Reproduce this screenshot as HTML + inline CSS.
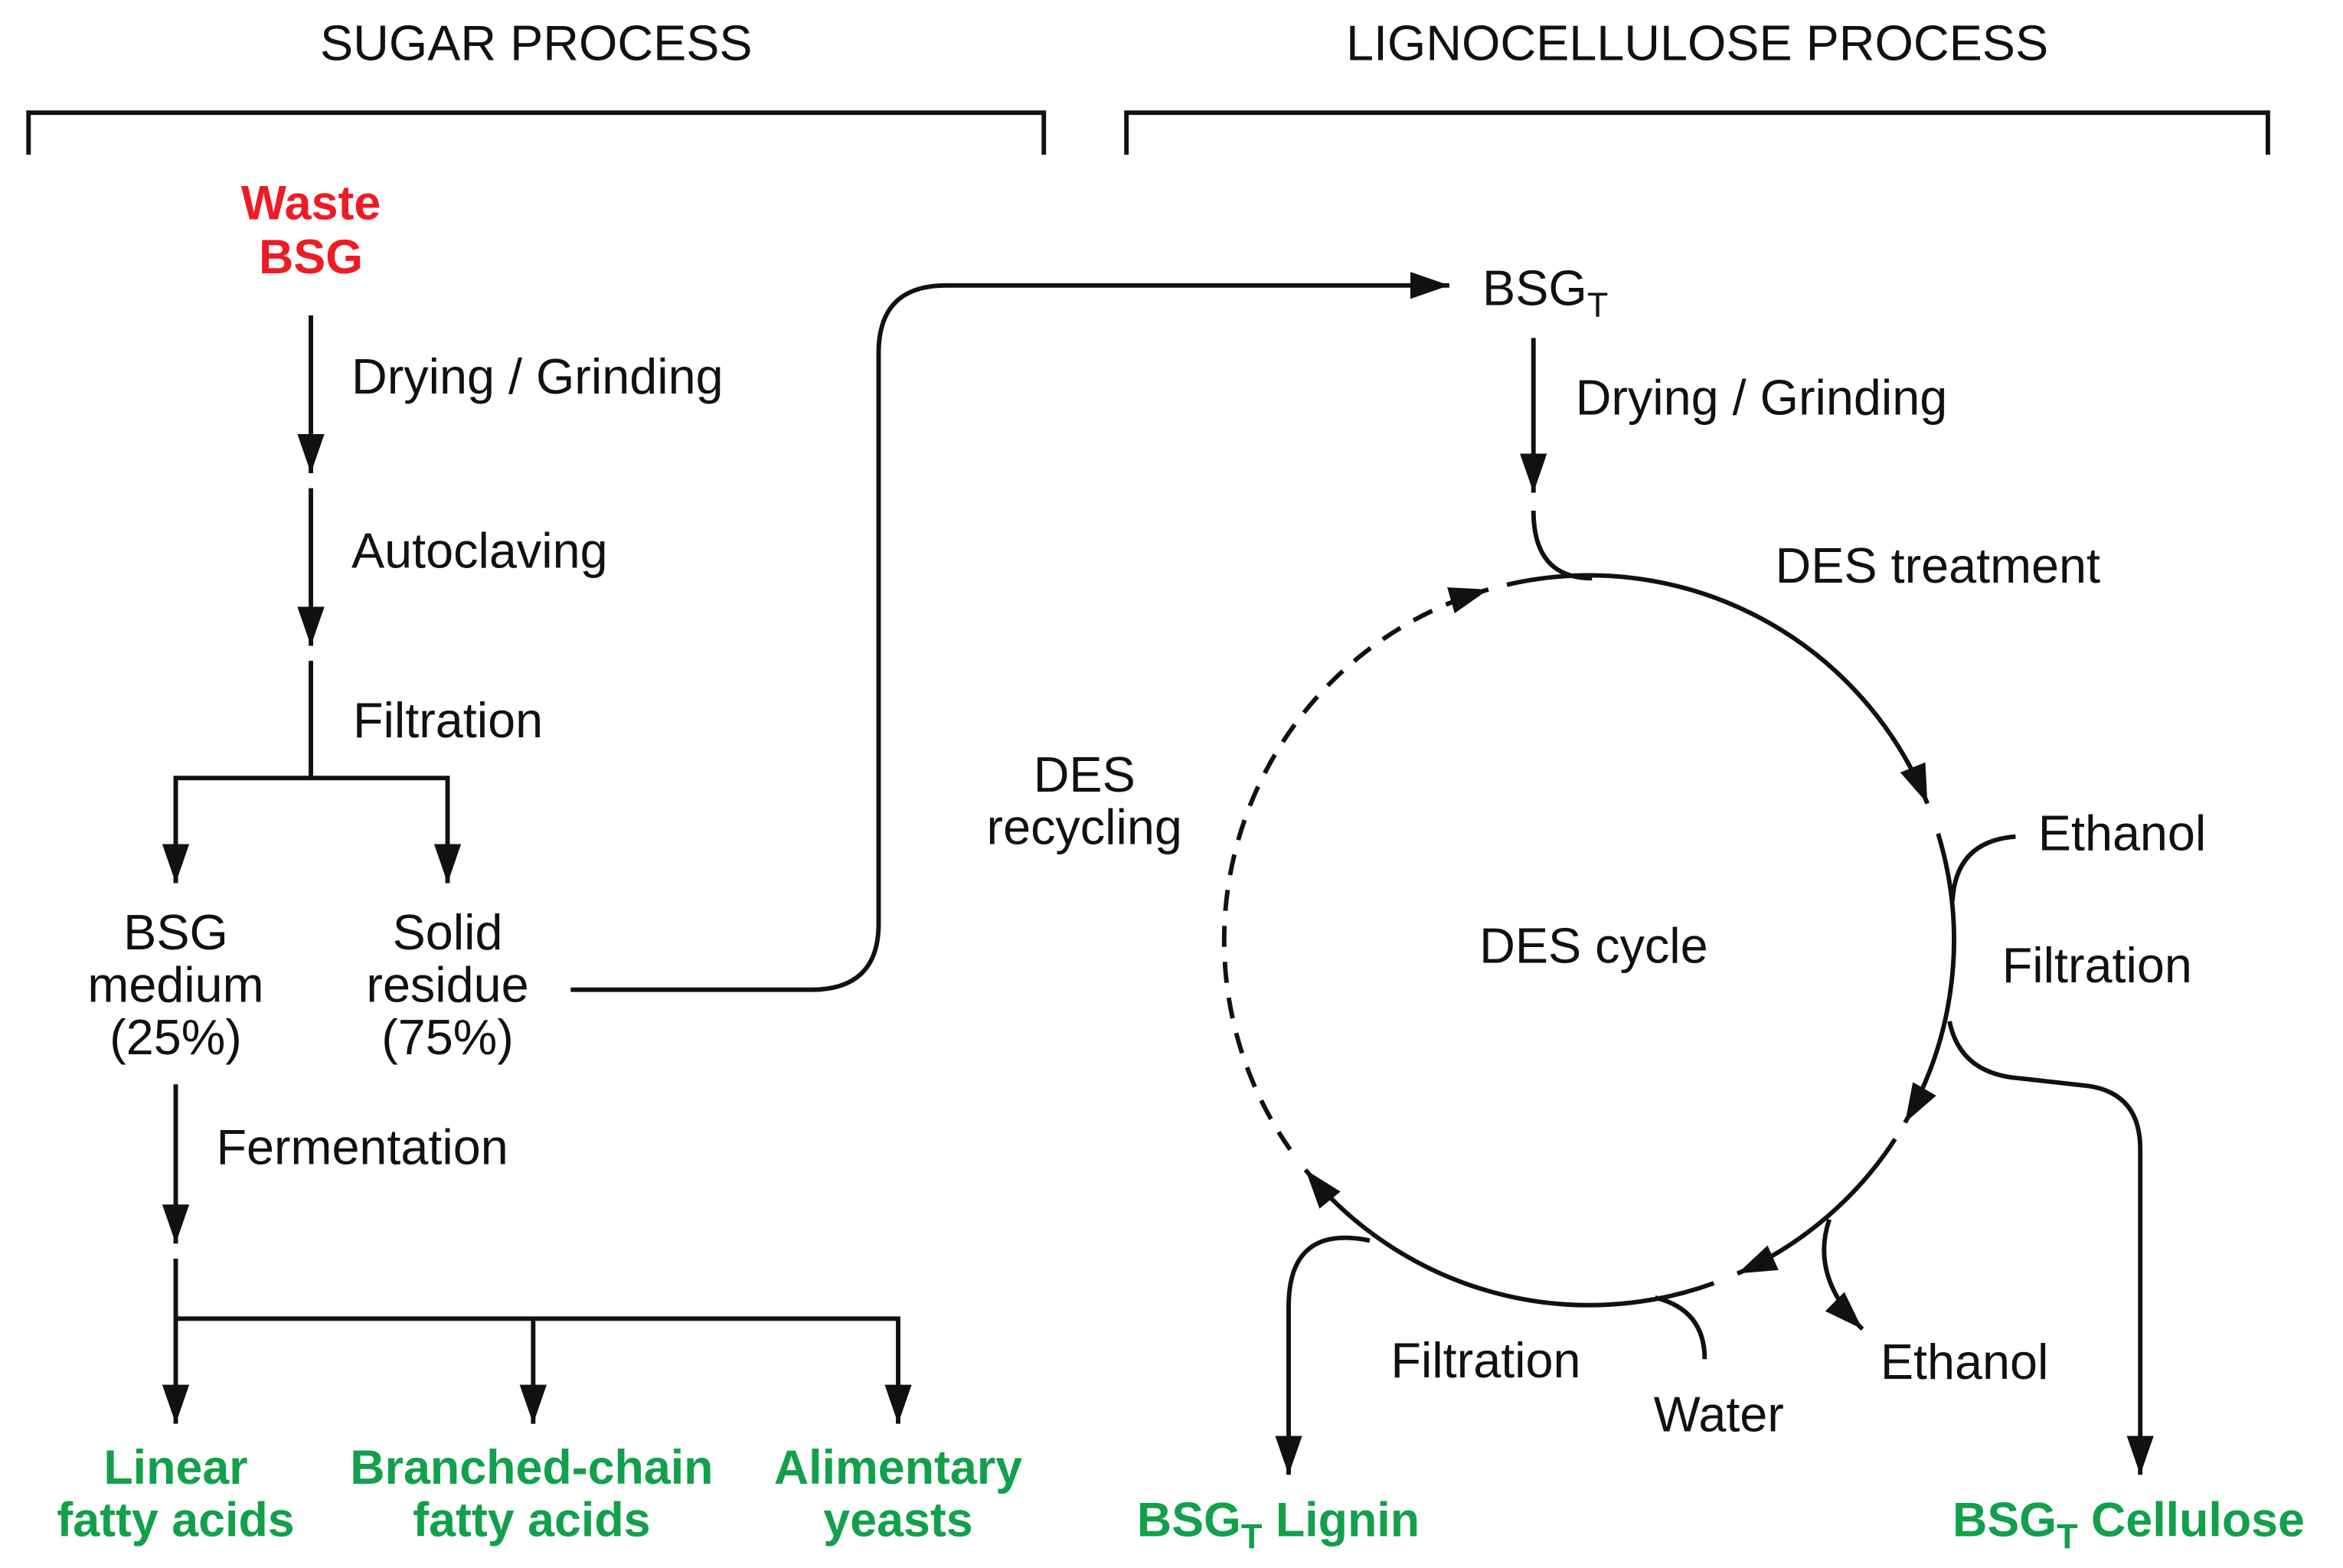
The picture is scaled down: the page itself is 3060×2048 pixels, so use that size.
<!DOCTYPE html>
<html><head><meta charset="utf-8"><style>
html,body{margin:0;padding:0;background:#fff;}
svg{display:block;}
text{font-family:"Liberation Sans",Arial,sans-serif;font-size:33px;fill:#111;}
.b{font-weight:bold;font-size:32px;}
.r{fill:#ed1c24;}
.g{fill:#12a04b;}
.m{text-anchor:middle;}
</style></head><body>
<svg width="3060" height="2048" viewBox="0 0 1560 1044" xmlns="http://www.w3.org/2000/svg">
<defs>
<marker id="a" viewBox="0 0 26 18" refX="26" refY="9" markerWidth="26" markerHeight="18" markerUnits="userSpaceOnUse" orient="auto">
<path d="M0,0 L26,9 L0,18 z" fill="#111"/>
</marker>
</defs>
<g fill="none" stroke="#111" stroke-width="3">
<path d="M19,103 V75 H695 V103"/>
<path d="M750,103 V75 H1510 V103"/>
<path d="M207,210 V315" marker-end="url(#a)"/>
<path d="M207,325 V430" marker-end="url(#a)"/>
<path d="M207,440 V518"/>
<path d="M117,588 V518 H298 V588" marker-end="url(#a)"/>
<path d="M117,518 V588" marker-end="url(#a)"/>
<path d="M117,722 V828" marker-end="url(#a)"/>
<path d="M117,838 V878 H598 V948" marker-end="url(#a)"/>
<path d="M117,878 V948" marker-end="url(#a)"/>
<path d="M355,878 V948" marker-end="url(#a)"/>
<path d="M380,659 H540 Q585,659 585,615 V235 Q585,190 630,190 H965" marker-end="url(#a)"/>
<path d="M1021,225 V328" marker-end="url(#a)"/>
<path d="M1021,340 Q1021,385 1060,385"/>
<path d="M1003.3,389.3 A243,243 0 0 1 1283.3,535" marker-end="url(#a)"/>
<path d="M1290.4,555 A243,243 0 0 1 1268.4,747.5" marker-end="url(#a)"/>
<path d="M1261.8,758.4 A243,243 0 0 1 1156.8,848" marker-end="url(#a)"/>
<path d="M1141.1,854.4 A243,243 0 0 1 869.2,778.9" marker-end="url(#a)"/>
<path d="M859,765.4 A243,243 0 0 1 991,392.5" stroke-dasharray="14 10" marker-end="url(#a)"/>
<path d="M1342,557 Q1302,560 1300,600"/>
<path d="M1298,680 Q1305,715 1345,718 L1390,723 Q1425,728 1425,765 V982" marker-end="url(#a)"/>
<path d="M1218,812 Q1205,850 1240,885" marker-end="url(#a)"/>
<path d="M1102,864 Q1135,872 1135,905"/>
<path d="M912,826 Q858,815 858,870 V982" marker-end="url(#a)"/>
</g>
<text class="m" x="357" y="40">SUGAR PROCESS</text>
<text class="m" x="1130" y="40">LIGNOCELLULOSE PROCESS</text>
<text class="b r m" x="207" y="146">Waste</text>
<text class="b r m" x="207" y="182">BSG</text>
<text x="234" y="262">Drying / Grinding</text>
<text x="234" y="378">Autoclaving</text>
<text x="235" y="491">Filtration</text>
<text class="m" x="117" y="632">BSG</text>
<text class="m" x="117" y="667">medium</text>
<text class="m" x="117" y="702">(25%)</text>
<text class="m" x="298" y="632">Solid</text>
<text class="m" x="298" y="667">residue</text>
<text class="m" x="298" y="702">(75%)</text>
<text x="144" y="775">Fermentation</text>
<text class="b g m" x="117" y="988">Linear</text>
<text class="b g m" x="117" y="1023">fatty acids</text>
<text class="b g m" x="354" y="988">Branched-chain</text>
<text class="b g m" x="354" y="1023">fatty acids</text>
<text class="b g m" x="598" y="988">Alimentary</text>
<text class="b g m" x="598" y="1023">yeasts</text>
<text x="987" y="203">BSG<tspan font-size="23" dy="8">T</tspan></text>
<text x="1049" y="276">Drying / Grinding</text>
<text x="1182" y="388">DES treatment</text>
<text class="m" x="722" y="527">DES</text>
<text class="m" x="722" y="562">recycling</text>
<text x="985" y="641">DES cycle</text>
<text x="1357" y="566">Ethanol</text>
<text x="1333" y="654">Filtration</text>
<text x="1252" y="918">Ethanol</text>
<text x="926" y="917">Filtration</text>
<text x="1101" y="953">Water</text>
<text class="b g" x="757" y="1023">BSG<tspan font-size="23" dy="8">T</tspan><tspan dy="-8"> Lignin</tspan></text>
<text class="b g" x="1300" y="1023">BSG<tspan font-size="23" dy="8">T</tspan><tspan dy="-8"> Cellulose</tspan></text>
</svg>
</body></html>
